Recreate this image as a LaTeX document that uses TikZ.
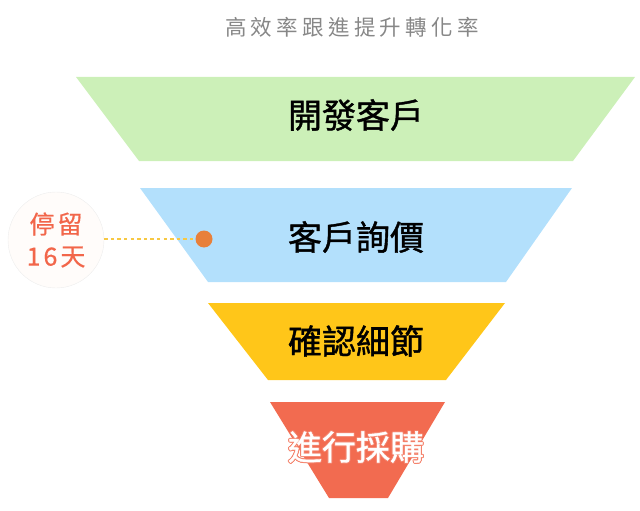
\documentclass[tikz,border=0pt]{standalone}
\usepackage{fontspec}
\usepackage{xcolor}
\usepackage{tikz}
\newfontfamily\cjk[FakeBold=1.2]{Noto Sans CJK TC}
\newfontfamily\cjkwide[LetterSpace=20]{Noto Sans CJK TC}
\newfontfamily\cjkstay[LetterSpace=12, FakeBold=0.6]{Noto Sans CJK TC}
\definecolor{leadgreen}{HTML}{CCF0B8}
\definecolor{quoteblue}{HTML}{B3E0FC}
\definecolor{detailyellow}{HTML}{FFC619}
\definecolor{orderred}{HTML}{F26B50}
\definecolor{stayred}{HTML}{F2664A}
\definecolor{dotorange}{HTML}{E8803A}
\definecolor{lineyellow}{HTML}{F7C843}

\begin{document}
\begin{tikzpicture}[x=1pt, y=-1pt,
    stage/.style={font=\cjk\fontsize{34}{34}\selectfont, anchor=center, inner sep=0pt}]
    \useasboundingbox (0,0) rectangle (640,511);
    % funnel
    \fill[leadgreen]    (76,77)  -- (635,77)  -- (573,161) -- (139,161) -- cycle;
    \fill[quoteblue]    (140,188) -- (572,188) -- (506,282) -- (208,282) -- cycle;
    \fill[detailyellow] (208,303) -- (505,303) -- (446,380) -- (268,380) -- cycle;
    \fill[orderred]     (270,402) -- (445,402) -- (388,498) -- (329,498) -- cycle;
    \node[text=black!47] (title) at (352,27) {\cjkwide\fontsize{21.5}{22}\selectfont 高效率跟進提升轉化率};
    \node[stage] (lead)   at (356,115) {開發客戶};
    \node[stage] (quote)  at (356,237) {客戶詢價};
    \node[stage] (detail) at (356,341) {確認細節};
    % thin red rim round the white text
    \foreach \dx/\dy in {1/0, -1/0, 0/1, 0/-1, .7/.7, -.7/.7, .7/-.7, -.7/-.7}
        \node[stage, text=orderred!85] at (356+\dx,447+\dy) {進行採購};
    \node[stage, text=white] (order) at (356,447) {進行採購};
    % stay time
    \node[circle, draw=black!7, fill=orange!2, minimum size=96pt, inner sep=0pt,
          text=stayred, align=center, font=\cjkstay\fontsize{25}{32}\selectfont]
          (stay) at (56,240) {停留\\16天};
    \node[circle, fill=dotorange, minimum size=17pt, inner sep=0pt] (dot) at (204,239) {};
    \draw[lineyellow, line width=1.6pt, dash pattern=on 3.3pt off 3.3pt] (stay.east |- dot) -- (dot.west);
\end{tikzpicture}
\end{document}
